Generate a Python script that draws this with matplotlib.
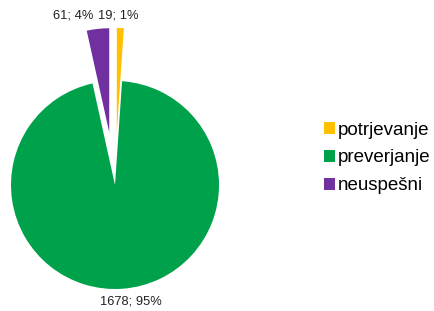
import matplotlib.pyplot as plt

labels = ['potrjevanje', 'preverjanje', 'neuspešni']
values = [19, 1678, 61]
percents = [1, 95, 4]
colors = ['#FFC000', '#00A14B', '#7030A0']
explode_frac = [0.51, 0.0, 0.51]

W, H = 435, 311
R = 104
fig = plt.figure(figsize=(W / 100, H / 100), dpi=100)
ax = fig.add_axes([0, 0, 1, 1])

plt.rcParams['font.family'] = ['Liberation Sans', 'DejaVu Sans']

texts_lbl = ['%d; %d%%' % (v, p) for v, p in zip(values, percents)]

# explode in pie is in data units, not radius fractions
wedges, txts = ax.pie(values, colors=colors, explode=[e * R for e in explode_frac],
                      startangle=90, counterclock=False, center=(115, H - 185), radius=R,
                      labels=texts_lbl, labeldistance=1.1,
                      wedgeprops=dict(linewidth=0), frame=True,
                      textprops=dict(fontsize=9.3, color='#222222'))
ax.set_xlim(0, W)
ax.set_ylim(0, H)
ax.set_aspect('equal')
ax.axis('off')

# label placement like the original
pos = [(118, H - 15), (131, H - 301), (73, H - 15)]
for t, p in zip(txts, pos):
    t.set_position(p)
    t.set_ha('center')
    t.set_va('center')

leg = ax.legend(wedges, labels, loc='center left', bbox_to_anchor=(324 / W, 1 - 158 / H),
                frameon=False, fontsize=13.5, handlelength=0.6, handleheight=0.6,
                handletextpad=0.15, labelspacing=0.58, borderaxespad=0, borderpad=0)

fig.savefig('out.png', dpi=100)
